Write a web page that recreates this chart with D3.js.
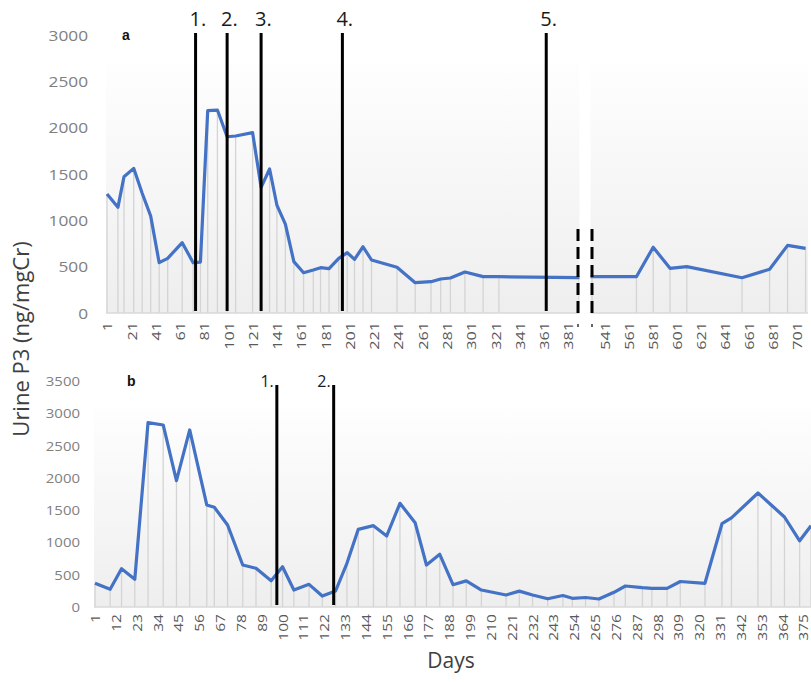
<!DOCTYPE html>
<html><head><meta charset="utf-8">
<script src="https://cdn.jsdelivr.net/npm/d3@7"></script>
<style>body{margin:0;background:#fff}</style>
</head><body><svg id="c" width="811" height="682"></svg>
<script>
// ---------- Panel a data ----------
const daysA = [1,10,15,23,30,37,44,51,63,72,78,84,92,100,107,121,128,135,141,148,155,163,171,177,184,192,199,205,212,219,240,255,268,276,284,296,311,324,390,530,567,581,595,609,655,678,693,708];
const valuesA = [1284,1140,1471,1561,1292,1047,543,590,759,543,550,2183,2190,1902,1910,1946,1356,1554,1165,960,554,435,464,489,478,590,651,579,715,572,493,327,338,367,378,442,392,392,381,392,392,709,482,500,381,472,730,698];
const eventsA = [74,100,128,195,363];
const eventLabelsA = ["1.","2.","3.","4.","5."];
const ticksXA = [1,21,41,61,81,101,121,141,161,181,201,221,241,261,281,301,321,341,361,381,541,561,581,601,621,641,661,681,701];
const ticksYA = [0,500,1000,1500,2000,2500,3000];
const breakA = [390,530];

// ---------- Panel b data ----------
const daysB = [1,9,15,22,29,37,44,51,60,64,71,79,86,94,100,106,114,121,128,134,140,148,155,162,170,176,183,190,197,205,218,225,232,240,248,253,260,267,275,281,290,295,303,310,323,332,337,351,358,365,373,379];
const valuesB = [367,274,593,429,2855,2819,1957,2742,1580,1544,1270,651,599,407,624,263,351,170,248,677,1203,1260,1100,1606,1306,651,816,345,405,263,186,246,186,127,178,135,147,124,228,325,299,289,289,395,367,1290,1380,1766,1580,1394,1025,1257];
const eventsB = [97,127];
const eventLabelsB = ["1.","2."];
const ticksXB = d3.range(1, 376, 11);
const ticksYB = [0,500,1000,1500,2000,2500,3000,3500];

const svg = d3.select("#c");
const LINE = "#4472C4", DROP = "#d4d4d4", TICKX = "#595959", TICKY = "#808080";
const FONT = "'Open Sans', sans-serif";

const defs = svg.append("defs");
const grad = defs.append("linearGradient").attr("id","bg").attr("x1",0).attr("y1",0).attr("x2",0).attr("y2",1);
grad.append("stop").attr("offset","0%").attr("stop-color","#fefefe");
grad.append("stop").attr("offset","45%").attr("stop-color","#f7f7f7");
grad.append("stop").attr("offset","100%").attr("stop-color","#eeeeee");

function panel(o) {
  const g = svg.append("g");
  const x = o.x, y = o.y;
  const y0 = y(0);
  g.append("rect").attr("x", o.bgX0).attr("y", o.bgTop).attr("width", o.bgX1 - o.bgX0)
    .attr("height", y0 - o.bgTop).attr("fill", "url(#bg)");
  g.append("g").selectAll("line").data(o.days).join("line")
    .attr("x1", d => x(d)).attr("x2", d => x(d))
    .attr("y1", (d,i) => y(o.values[i])).attr("y2", y0)
    .attr("stroke", DROP).attr("stroke-width", 1.3);
  g.append("line").attr("x1", o.bgX0).attr("x2", o.bgX1).attr("y1", y0).attr("y2", y0)
    .attr("stroke", "#d9d9d9").attr("stroke-width", 1.3);
  const line = d3.line().x((d,i) => x(o.days[i])).y((d,i) => y(o.values[i]));
  g.append("path").datum(o.values).attr("d", line).attr("fill","none")
    .attr("stroke", LINE).attr("stroke-width", 3.2).attr("stroke-linejoin","round");
  const ya = d3.axisLeft(y).tickValues(o.ticksY).tickSize(0).tickPadding(0).tickFormat(d3.format("d"));
  const yg = g.append("g").attr("transform", `translate(${o.yLabelX},0)`).call(ya);
  yg.select(".domain").remove();
  yg.selectAll("text").attr("x", 0).attr("dy", "0.35em")
    .attr("transform", `scale(${o.ySx},1)`)
    .attr("fill", TICKY).style("font-family", FONT).style("font-size", o.yFont + "px");
  const xa = d3.axisBottom(x).tickValues(o.ticksX).tickSize(0).tickPadding(0).tickFormat(d3.format("d"));
  const xg = g.append("g").attr("transform", `translate(0,${y0})`).call(xa);
  xg.select(".domain").remove();
  xg.selectAll("text").attr("x", 0).attr("y", 0).attr("dy", "0.35em")
    .attr("text-anchor", "end")
    .attr("transform", `translate(0,${o.xLabelGap}) rotate(-90) scale(${o.xSx},1)`)
    .attr("fill", TICKX).style("font-family", FONT).style("font-size", o.xFont + "px");
  return g;
}

// ---------- panel a ----------
const xA = d3.scaleLinear().domain([1, breakA[0], breakA[1], 710]).range([107, 579, 592, 808]);
const yA = d3.scaleLinear().domain([0, 3000]).range([313, 35]);
const gA = panel({x: xA, y: yA, days: daysA, values: valuesA, ticksX: ticksXA, ticksY: ticksYA,
  bgX0: 106, bgX1: 808, bgTop: 63, yLabelX: 88, ySx: 1.15, yFont: 15, xLabelGap: 9, xSx: 1.2, xFont: 13.5});

const bx0 = xA(breakA[0]) - 1, bx1 = xA(breakA[1]);
gA.append("rect").attr("x", bx0 + 1.5).attr("y", 62).attr("width", bx1 - bx0 - 3).attr("height", 257).attr("fill", "#fff");
[bx0, bx1].forEach(bx => {
  gA.append("line").attr("x1", bx).attr("x2", bx).attr("y1", 229).attr("y2", 314)
    .attr("stroke", "#000").attr("stroke-width", 3).attr("stroke-dasharray", "12,6");
  gA.append("line").attr("x1", bx).attr("x2", bx).attr("y1", 324).attr("y2", 327)
    .attr("stroke", "#333").attr("stroke-width", 1.5);
});

eventsA.forEach((d, i) => {
  const ex = xA(d);
  gA.append("line").attr("x1", ex).attr("x2", ex).attr("y1", 33).attr("y2", 311)
    .attr("stroke", "#000").attr("stroke-width", 3);
  gA.append("text").attr("x", ex - 6).attr("y", 26).text(eventLabelsA[i])
    .attr("fill", "#1a1a1a").style("font-family", FONT).style("font-size", "20px");
});
gA.append("text").attr("x", 122).attr("y", 40).text("a").attr("font-weight", "bold")
  .style("font-family", "'Liberation Sans', Arial, sans-serif").style("font-size", "14px").attr("fill", "#111");

// ---------- panel b ----------
const xB = d3.scaleLinear().domain([1, 379]).range([95, 811]);
const yB = d3.scaleLinear().domain([0, 3500]).range([607, 381]);
const gB = panel({x: xB, y: yB, days: daysB, values: valuesB, ticksX: ticksXB, ticksY: ticksYB,
  bgX0: 94, bgX1: 811, bgTop: 407, yLabelX: 80, ySx: 1.15, yFont: 13, xLabelGap: 7, xSx: 1.2, xFont: 13});

eventsB.forEach((d, i) => {
  const ex = xB(d);
  gB.append("line").attr("x1", ex).attr("x2", ex).attr("y1", 385).attr("y2", 605)
    .attr("stroke", "#000").attr("stroke-width", 3);
  gB.append("text").attr("x", ex - 3).attr("y", 387).attr("text-anchor", "end").text(eventLabelsB[i])
    .attr("fill", "#1a1a1a").style("font-family", FONT).style("font-size", "16px");
});
gB.append("text").attr("x", 127).attr("y", 386).text("b").attr("font-weight", "bold")
  .style("font-family", "'Liberation Sans', Arial, sans-serif").style("font-size", "14px").attr("fill", "#111");

// ---------- titles ----------
svg.append("text").attr("transform", "translate(29,339) rotate(-90)").attr("text-anchor", "middle")
  .text("Urine P3 (ng/mgCr)").attr("fill", "#404040").style("font-family", FONT).style("font-size", "22px");
svg.append("text").attr("x", 451).attr("y", 668).attr("text-anchor", "middle")
  .text("Days").attr("fill", "#404040").style("font-family", FONT).style("font-size", "21px");
</script></body></html>
